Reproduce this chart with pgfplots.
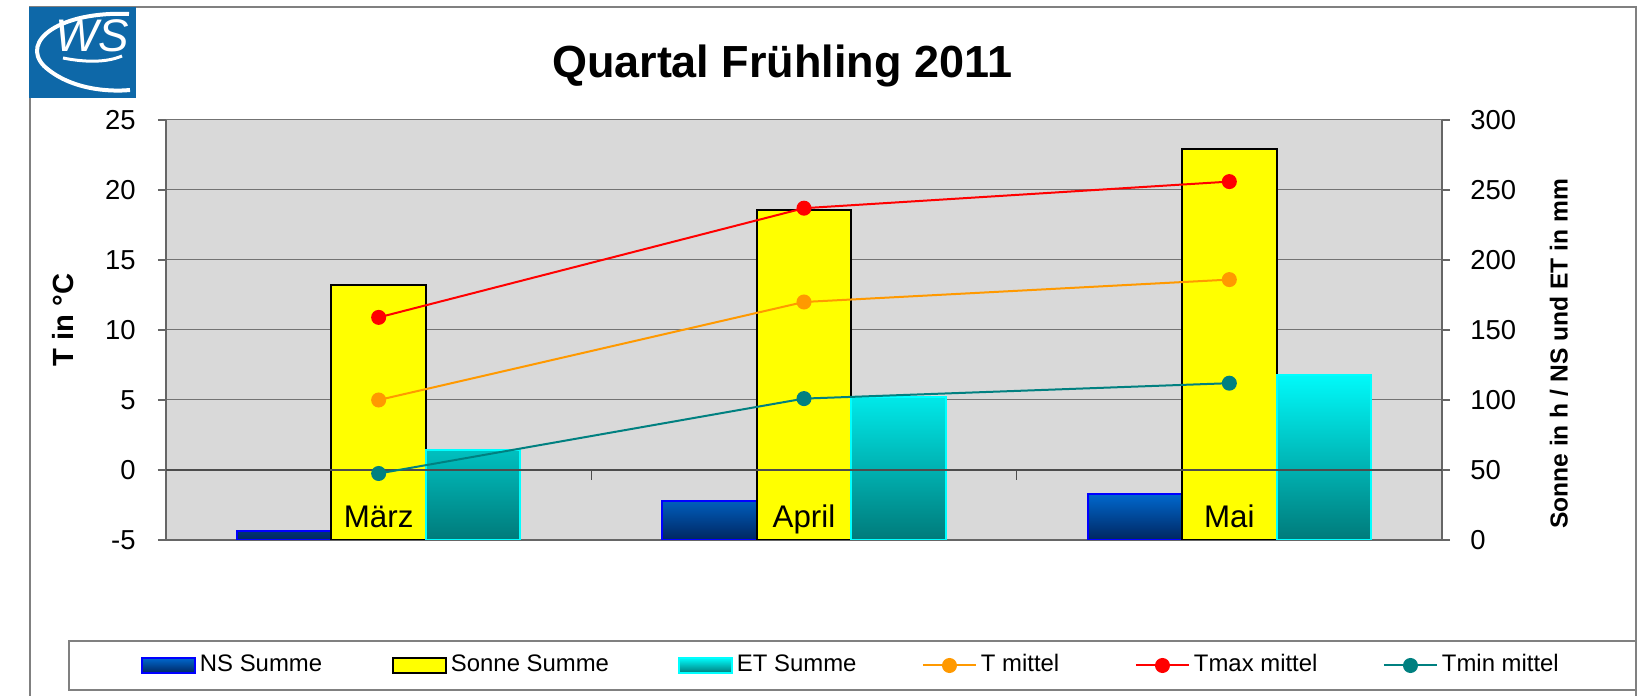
\documentclass[border=0pt]{standalone}
\usepackage{pgfplots}
\pgfplotsset{compat=1.18}
\usepackage{fontspec}
\setmainfont{Liberation Sans}
\definecolor{plotbg}{RGB}{217,217,217}
\definecolor{nsTop}{RGB}{0,104,206}
\definecolor{nsBot}{RGB}{0,38,96}
\definecolor{nsEdge}{RGB}{0,0,255}
\definecolor{sunFill}{RGB}{255,255,0}
\definecolor{etEdge}{RGB}{0,255,255}
\definecolor{etTop}{RGB}{0,250,250}
\definecolor{etBot}{RGB}{0,122,122}
\definecolor{tmean}{RGB}{255,153,0}
\definecolor{tmax}{RGB}{255,0,0}
\definecolor{tmin}{RGB}{0,128,128}
\definecolor{logoblue}{RGB}{14,104,168}
\definecolor{framegray}{RGB}{128,128,128}
\begin{document}
\begin{tikzpicture}[x=1mm,y=1mm]
\useasboundingbox (0,0) rectangle (164.2,69.6);
% outer frame
\draw[framegray, line width=0.2mm] (3.0,0) -- (3.0,68.9) -- (163.6,68.9) -- (163.6,0);
% logo
\fill[logoblue] (2.9,59.8) rectangle (13.6,68.9);
\draw[white, line width=0.4mm] (12.9,68.2) .. controls (6,68.5) and (2.0,65.5) .. (4.4,63.0) .. controls (7,60.6) and (11,60.4) .. (13.0,60.6);
\draw[white, line width=0.3mm] (6.3,63.8) .. controls (8.8,63.3) and (10.8,63.4) .. (12.2,64.0);
\node[white, font=\fontsize{13}{13}\selectfont\itshape] at (9.2,66.0) {WS};
% title
\node[font=\fontsize{12.8}{14}\selectfont\bfseries] at (78.2,63.0) {Quartal Frühling 2011};

% ---------- bars (right axis) ----------
\begin{axis}[
  at={(16.6mm,15.6mm)}, anchor=south west,
  scale only axis, width=127.6mm, height=42mm,
  xmin=0.5, xmax=3.5, ymin=0, ymax=300,
  axis y line*=right, axis x line*=bottom,
  axis background/.style={fill=plotbg},
  axis line style={black!60, line width=0.2mm},
  ytick={0,50,...,300},
  ymajorgrids, major grid style={black!55, line width=0.1mm},
  xtick=\empty,
  ytick align=outside, major tick length=0.8mm,
  ytick style={black!60, line width=0.15mm},
  yticklabel style={font=\fontsize{7.8}{9}\selectfont, xshift=0.8mm},
  /pgf/number format/assume math mode=true,
  ylabel={Sonne in h / NS und ET in mm},
  ylabel style={font=\fontsize{7.0}{8}\selectfont\bfseries, at={(axis description cs:1.0917,0.443)}, anchor=center},
]
\addplot[ybar, bar width=0.222, bar shift=-0.222, draw=nsEdge, line width=0.2mm, top color=nsTop, bottom color=nsBot]
  coordinates {(1,6.6) (2,27.5) (3,33.0)};
\addplot[ybar, bar width=0.222, bar shift=0, draw=black, line width=0.2mm, fill=sunFill]
  coordinates {(1,182.3) (2,235.4) (3,279.5)};
\addplot[ybar, bar width=0.222, bar shift=0.222, draw=etEdge, line width=0.2mm, top color=etTop, bottom color=etBot]
  coordinates {(1,64.3) (2,102) (3,118)};
\end{axis}

% ---------- temperatures (left axis) ----------
\begin{axis}[
  at={(16.6mm,15.6mm)}, anchor=south west,
  scale only axis, width=127.6mm, height=42mm,
  xmin=0.5, xmax=3.5, ymin=-5, ymax=25,
  axis y line*=left, axis x line*=bottom,
  x axis line style={draw=none},
  axis line style={black!60, line width=0.2mm},
  xtick={1,2,3}, xticklabels={März,April,Mai},
  xtick style={draw=none}, xtick align=inside,
  xticklabel style={font=\fontsize{8.9}{10}\selectfont, anchor=base, yshift=1.2mm},
  ytick={-5,0,...,25},
  ytick align=outside, major tick length=0.8mm,
  ytick style={black!60, line width=0.15mm},
  extra y ticks={0}, extra y tick labels={},
  extra y tick style={ymajorgrids, major grid style={black!70, line width=0.2mm}},
  yticklabel style={font=\fontsize{7.8}{9}\selectfont, xshift=-1mm},
  /pgf/number format/assume math mode=true,
  ylabel={T in °C},
  ylabel style={font=\fontsize{8.3}{9}\selectfont\bfseries, at={(axis description cs:-0.0807,0.524)}, anchor=center},
  legend columns=6,
  legend image code/.code={\draw[mark repeat=2, mark phase=2, #1] plot coordinates {(0mm,0mm) (2.65mm,0mm) (5.3mm,0mm)};},
  legend style={at={(0.538,-0.2988)}, anchor=center, draw=framegray, line width=0.15mm,
    inner xsep=7.2mm, inner ysep=1.3mm, column sep=0pt,
    nodes={inner sep=0pt, text height=1.8mm, text depth=0.5mm},
    font=\fontsize{6.8}{8}\selectfont},
  legend cell align=left,
]
\addlegendimage{legend image code/.code={\draw[draw=nsEdge, line width=0.2mm, top color=nsTop, bottom color=nsBot] (0mm,-0.75mm) rectangle (5.3mm,0.75mm);}}
\addlegendentry{\makebox[19.6mm][l]{\hspace{0.4mm}NS Summe}}
\addlegendimage{legend image code/.code={\draw[draw=black, line width=0.2mm, fill=sunFill] (0mm,-0.75mm) rectangle (5.3mm,0.75mm);}}
\addlegendentry{\makebox[23.1mm][l]{\hspace{0.4mm}Sonne Summe}}
\addlegendimage{legend image code/.code={\draw[draw=etEdge, line width=0.2mm, top color=etTop, bottom color=etBot] (0mm,-0.75mm) rectangle (5.3mm,0.75mm);}}
\addlegendentry{\makebox[18.9mm][l]{\hspace{0.4mm}ET Summe}}
\addplot[tmean, line width=0.2mm, mark=*, mark size=0.65mm, mark options={fill=tmean, draw=tmean}]
  coordinates {(1,5.0) (2,12.0) (3,13.6)};
\addlegendentry{\makebox[15.8mm][l]{\hspace{0.4mm}T mittel}}
\addplot[tmax, line width=0.2mm, mark=*, mark size=0.65mm, mark options={fill=tmax, draw=tmax}]
  coordinates {(1,10.9) (2,18.7) (3,20.6)};
\addlegendentry{\makebox[19.3mm][l]{\hspace{0.4mm}Tmax mittel}}
\addplot[tmin, line width=0.2mm, mark=*, mark size=0.65mm, mark options={fill=tmin, draw=tmin}]
  coordinates {(1,-0.25) (2,5.1) (3,6.2)};
\addlegendentry{\makebox[12.6mm][l]{\hspace{0.4mm}Tmin mittel}}
\draw[black!70, line width=0.15mm] (axis cs:1.5,0) -- (axis cs:1.5,-0.7);
\draw[black!70, line width=0.15mm] (axis cs:2.5,0) -- (axis cs:2.5,-0.7);
\end{axis}
\end{tikzpicture}
\end{document}
